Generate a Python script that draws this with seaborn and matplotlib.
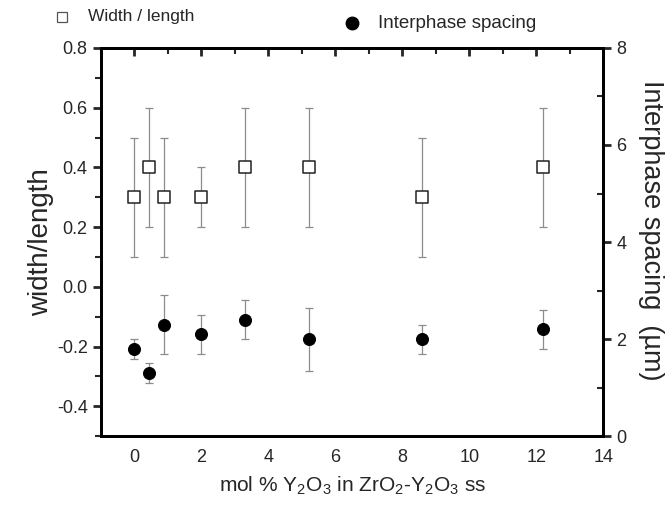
import numpy as np
import pandas as pd
import matplotlib
matplotlib.use('Agg')
import matplotlib.pyplot as plt
from matplotlib.ticker import MultipleLocator
from matplotlib.lines import Line2D
import seaborn as sns

sns.set_theme(style='white')
plt.rcParams['font.family'] = ['Liberation Sans', 'DejaVu Sans']
plt.rcParams['mathtext.fontset'] = 'custom'
plt.rcParams['mathtext.rm'] = 'Liberation Sans'
plt.rcParams['mathtext.it'] = 'Liberation Sans'

# width / length (left axis, open squares)
wl_x = [0.0, 0.45, 0.9, 2.0, 3.3, 5.2, 8.6, 12.2]
wl_y = [0.3, 0.4, 0.3, 0.3, 0.4, 0.4, 0.3, 0.4]
wl_yerr = [0.2, 0.2, 0.2, 0.1, 0.2, 0.2, 0.2, 0.2]
wl_xerr = [0.0, 0.1, 0.1, 0.1, 0.1, 0.1, 0.1, 0.1]

# interphase spacing in um (right axis, filled circles)
sp_x = [0.0, 0.45, 0.9, 2.0, 3.3, 5.2, 8.6, 12.2]
sp_y = [1.8, 1.3, 2.3, 2.1, 2.4, 2.0, 2.0, 2.2]
sp_yerr = [0.2, 0.2, 0.6, 0.4, 0.4, 0.65, 0.3, 0.4]
sp_xerr = [0.0, 0.0, 0.0, 0.1, 0.0, 0.1, 0.0, 0.1]

wl = pd.DataFrame({'x': wl_x, 'y': wl_y})
sp = pd.DataFrame({'x': sp_x, 'y': sp_y})

fig = plt.figure(figsize=(6.68, 5.15), dpi=100)
ax = fig.add_axes([0.151, 0.153, 0.752, 0.754])
ax2 = ax.twinx()

errc = '#8c8c8c'
ax.errorbar(wl_x, wl_y, yerr=wl_yerr, xerr=wl_xerr, fmt='none', ecolor=errc,
            elinewidth=0.9, capsize=2.8, capthick=0.9, zorder=1)
sns.scatterplot(data=wl, x='x', y='y', ax=ax, marker='s', s=70,
                facecolor='white', edgecolor='#222222', linewidth=1.1, zorder=3)

ax2.errorbar(sp_x, sp_y, yerr=sp_yerr, xerr=sp_xerr, fmt='none', ecolor=errc,
             elinewidth=0.9, capsize=2.8, capthick=0.9, zorder=1)
sns.scatterplot(data=sp, x='x', y='y', ax=ax2, marker='o', s=75,
                color='black', edgecolor='black', zorder=3)

ax.set_xlim(-1, 14)
ax.set_ylim(-0.5, 0.8)
ax2.set_ylim(0, 8)

ax.xaxis.set_major_locator(MultipleLocator(2))
ax.xaxis.set_minor_locator(MultipleLocator(1))
ax.yaxis.set_major_locator(MultipleLocator(0.2))
ax.yaxis.set_minor_locator(MultipleLocator(0.1))
ax2.yaxis.set_major_locator(MultipleLocator(2))
ax2.yaxis.set_minor_locator(MultipleLocator(1))
ax.set_yticks([-0.4, -0.2, 0.0, 0.2, 0.4, 0.6, 0.8])
ax.set_yticklabels(['-0.4', '-0.2', '0.0', '0.2', '0.4', '0.6', '0.8'])

for a in (ax, ax2):
    for s in a.spines.values():
        s.set_linewidth(2)
        s.set_color('black')

ax.tick_params(axis='x', which='major', direction='out', length=6, width=2,
               labelsize=13, top=False)
ax.tick_params(axis='x', which='minor', direction='out', length=4, width=1.5)
ax.tick_params(axis='y', which='major', direction='out', length=6, width=2, labelsize=13)
ax.tick_params(axis='y', which='minor', direction='out', length=4, width=1.5)
ax2.tick_params(axis='y', which='major', direction='out', length=6, width=2, labelsize=13)
ax2.tick_params(axis='y', which='minor', direction='in', length=4, width=1.5)

top = ax.secondary_xaxis('top')
top.xaxis.set_major_locator(MultipleLocator(2))
top.xaxis.set_minor_locator(MultipleLocator(1))
top.tick_params(which='major', direction='in', length=6, width=2, labeltop=False)
top.tick_params(which='minor', direction='in', length=4, width=1.5)
top.spines['top'].set_linewidth(2)

ax.set_xlabel('mol % Y$_2$O$_3$ in ZrO$_2$-Y$_2$O$_3$ ss', fontsize=15, labelpad=6)
ax.set_ylabel('width/length', fontsize=20, labelpad=2)
ax2.set_ylabel('Interphase spacing  (\u00b5m)', fontsize=19.5, rotation=-90, labelpad=24)
ax2.yaxis.set_label_coords(1.122, 0.53)
ax.grid(False)
ax2.grid(False)

# legend across the top
fig.add_artist(Line2D([0.093], [0.967], marker='s', markersize=7.5, markerfacecolor='white',
                      markeredgecolor='#555555', markeredgewidth=0.9, transform=fig.transFigure))
fig.text(0.132, 0.967, 'Width / length', fontsize=12.5, va='center', ha='left')
fig.add_artist(Line2D([0.527], [0.955], marker='o', markersize=9, color='black',
                      transform=fig.transFigure))
fig.text(0.566, 0.955, 'Interphase spacing', fontsize=13.5, va='center', ha='left')

fig.savefig('out.png', dpi=100)
